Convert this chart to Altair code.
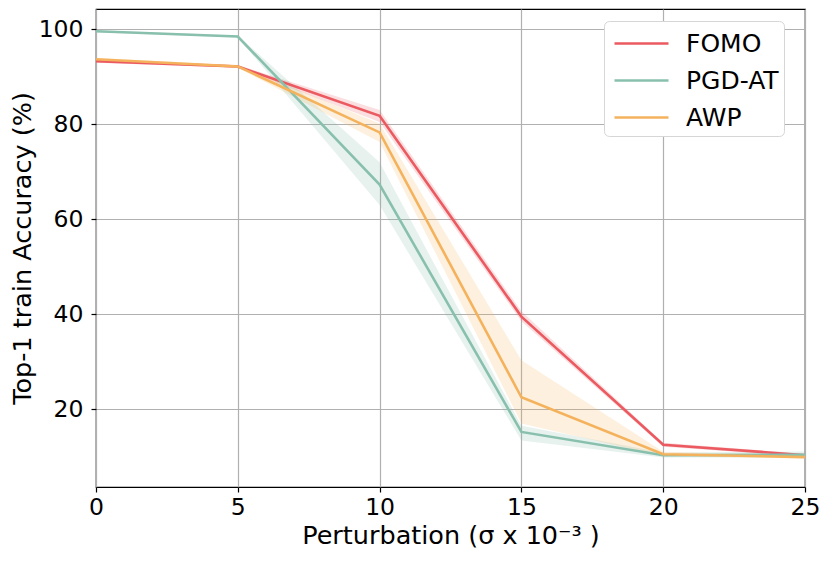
import altair as alt
import pandas as pd

x_vals = [0, 5, 10, 15, 20, 25]
series = ["FOMO", "PGD-AT", "AWP"]
colors = ["#eb5a60", "#88c0ad", "#f5b25c"]

fomo_mean = [93.3, 92.2, 81.8, 39.5, 12.5, 10.3]
fomo_lo = [93.0, 91.9, 80.5, 38.5, 12.1, 10.0]
fomo_hi = [93.6, 92.5, 83.0, 40.6, 12.9, 10.6]

pgd_mean = [99.6, 98.5, 67.3, 15.2, 10.3, 10.4]
pgd_lo = [99.4, 98.3, 63.0, 13.4, 9.8, 9.8]
pgd_hi = [99.8, 98.7, 72.0, 16.5, 10.8, 11.1]

awp_mean = [93.7, 92.2, 78.3, 22.5, 10.5, 9.9]
awp_lo = [93.4, 91.9, 76.3, 17.0, 10.1, 9.6]
awp_hi = [94.0, 92.5, 80.2, 30.3, 11.0, 10.3]

rows = []
for name, m, lo, hi in [("FOMO", fomo_mean, fomo_lo, fomo_hi),
                        ("PGD-AT", pgd_mean, pgd_lo, pgd_hi),
                        ("AWP", awp_mean, awp_lo, awp_hi)]:
    for i, xv in enumerate(x_vals):
        rows.append({"x": xv, "series": name, "mean": m[i], "lo": lo[i], "hi": hi[i]})
df = pd.DataFrame(rows)

FONT = "DejaVu Sans"

xscale = alt.Scale(domain=[0, 25], nice=False, zero=False)
yscale = alt.Scale(domain=[3.6, 104.3], nice=False, zero=False)
cscale = alt.Scale(domain=series, range=colors)

legend = alt.Legend(title=None, orient="none",
                    legendX=508, legendY=12,
                    symbolType="M-1.6875,0H1.6875", symbolSize=1024,
                    symbolStrokeWidth=2.6, symbolOpacity=1,
                    symbolFillColor="transparent",
                    symbolOffset=15,
                    labelFontSize=25, labelFont=FONT, labelColor="black",
                    labelOffset=27,
                    rowPadding=6,
                    padding=5,
                    cornerRadius=5,
                    strokeColor="#d6d6d6",
                    fillColor="white")

base = alt.Chart(df)

bands = base.mark_area(opacity=0.2).encode(
    x=alt.X("x:Q", scale=xscale),
    y=alt.Y("lo:Q", scale=yscale),
    y2=alt.Y2("hi:Q"),
    color=alt.Color("series:N", scale=cscale, sort=series, legend=legend),
)

lines = base.mark_line(strokeWidth=2.6).encode(
    x=alt.X("x:Q", scale=xscale,
            title="Perturbation (σ x 10⁻³ )",
            axis=alt.Axis(values=[0, 5, 10, 15, 20, 25], format="d")),
    y=alt.Y("mean:Q", scale=yscale,
            title="Top-1 train Accuracy (%)",
            axis=alt.Axis(values=[20, 40, 60, 80, 100], format="d")),
    color=alt.Color("series:N", scale=cscale, sort=series, legend=legend),
)

chart = alt.layer(bands, lines).properties(
    width=709, height=478,
    padding={"left": 88, "top": 1, "right": 17, "bottom": 67},
    autosize=alt.AutoSizeParams(type="none"),
).configure_view(
    stroke="black", strokeWidth=1.2, fill="white"
).configure_axis(
    grid=True, gridColor="#b0b0b0", gridWidth=1.2,
    domain=False, tickColor="black", tickSize=5, tickWidth=1.2,
    labelFont=FONT, labelFontSize=23.5, labelColor="black",
    titleFont=FONT, titleFontWeight="normal", titleColor="black",
).configure_axisX(
    labelFlush=False, labelPadding=3, titleFontSize=25.5, titlePadding=5
).configure_axisY(
    labelFlush=False, labelPadding=8, titleFontSize=25.5, titlePadding=3
)

chart.save("out.html", embed_options={"renderer": "svg", "actions": False})
